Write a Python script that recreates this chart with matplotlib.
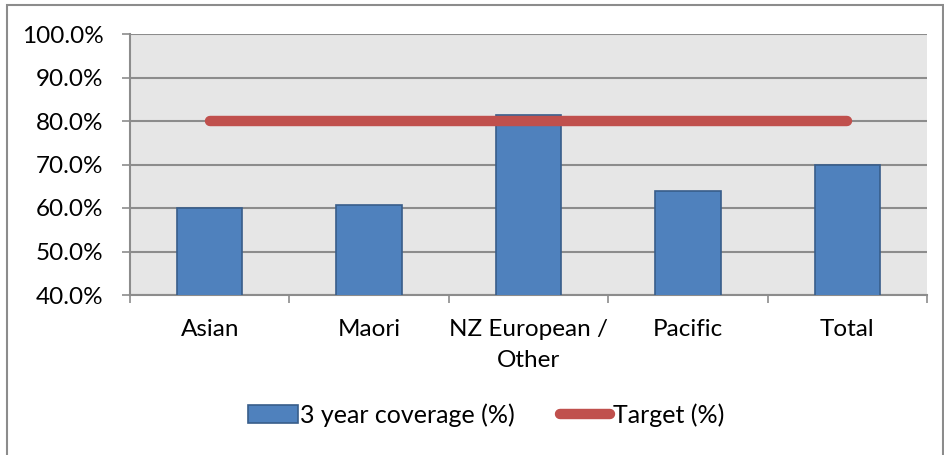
import numpy as np
import matplotlib.pyplot as plt
from matplotlib.patches import Rectangle
from matplotlib.ticker import FuncFormatter

categories = ["Asian", "Maori", "NZ European /\nOther", "Pacific", "Total"]
coverage = [59.9, 60.7, 81.4, 63.9, 69.9]
target = [80, 80, 80, 80, 80]

plt.rcParams['font.family'] = ['Lato', 'DejaVu Sans']

fig = plt.figure(figsize=(9.44, 4.55), dpi=100)
ax = fig.add_axes([130/944, 1 - 295/455, (927 - 130)/944, (295 - 34)/455])

x = np.arange(len(categories))
ax.set_facecolor('#e6e6e6')
bars = ax.bar(x, coverage, width=0.41, color='#4f81bd', edgecolor='#385d8a',
              linewidth=1.2, zorder=3, label='3 year coverage (%)')
line, = ax.plot(x, target, color='#c0504d', linewidth=7.5, solid_capstyle='round',
                zorder=4, label='Target (%)')

ax.set_xlim(-0.5, len(categories) - 0.5)
ax.set_ylim(40, 100)
ax.set_yticks(np.arange(40, 101, 10))
ax.yaxis.set_major_formatter(FuncFormatter(lambda v, p: f"{v:.1f}%"))
ax.grid(axis='y', color='#8c8c8c', linewidth=1.5, zorder=1)
ax.set_axisbelow(True)

ax.set_xticks(x)
ax.set_xticklabels(categories, fontsize=17.5, linespacing=1.6)
ax.set_xticks(np.arange(-0.5, len(categories)), minor=True)
ax.tick_params(axis='x', which='major', length=0, pad=17)
ax.tick_params(axis='x', which='minor', length=6, color='#8c8c8c', width=1.2)
ax.tick_params(axis='y', length=6, color='#8c8c8c', width=1.2, labelsize=17.5, pad=13)

for side in ['top', 'right']:
    ax.spines[side].set_visible(False)
for side in ['left', 'bottom']:
    ax.spines[side].set_color('#8c8c8c')
    ax.spines[side].set_linewidth(1.5)

fig.legend([bars, line], ['3 year coverage (%)', 'Target (%)'],
           loc='center', bbox_to_anchor=(0.5 + 14/944, 1 - 415/455), ncol=2,
           frameon=False, fontsize=18, handlelength=2.0,
           handletextpad=0.1, columnspacing=1.8)

fig.patches.append(Rectangle((7/944, -0.05), (943 - 7)/944, 1 - 5/455 + 0.05,
                             transform=fig.transFigure, fill=False,
                             edgecolor='#8c8c8c', linewidth=1.5))

fig.savefig('out.png', dpi=100)
